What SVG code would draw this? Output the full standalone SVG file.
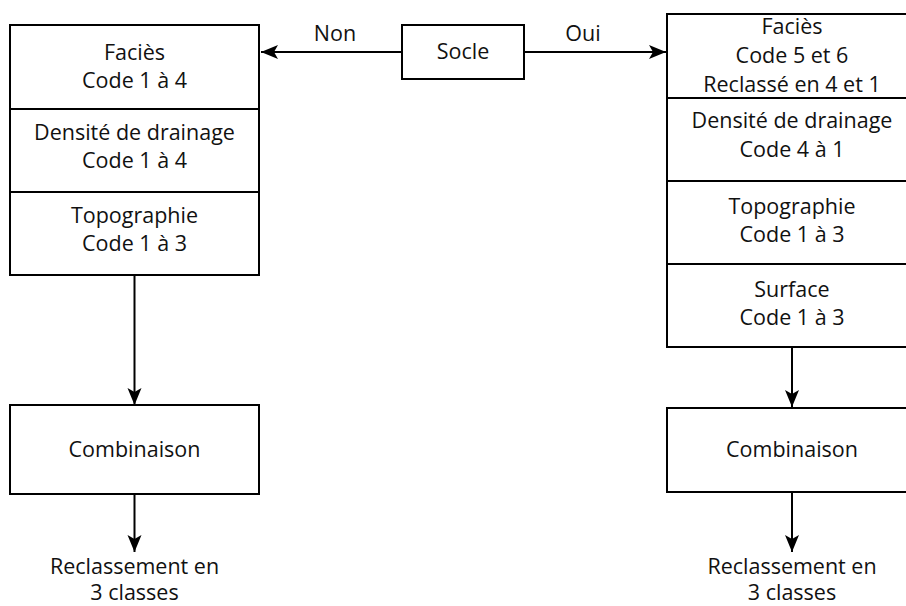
<svg xmlns="http://www.w3.org/2000/svg" width="906" height="606" viewBox="0 0 906 606">
<defs>
<marker id="ah" markerUnits="userSpaceOnUse" markerWidth="18" markerHeight="16" refX="17" refY="8" orient="auto">
<path d="M0,1 L17,8 L0,15 L4,8 Z" fill="#000"/>
</marker>
<style>
text{font-family:"Open Sans","Liberation Sans",sans-serif;font-size:21.5px;fill:#111;text-anchor:middle}
.box{fill:#fff;stroke:#000;stroke-width:2}
.div{stroke:#000;stroke-width:2}
.con{stroke:#000;stroke-width:2;fill:none;marker-end:url(#ah)}
</style>
</defs>
<rect width="906" height="606" fill="#fff"/>
<g id="connectors">
<line class="con" x1="402" y1="52" x2="261" y2="52"/>
<line class="con" x1="524" y1="52" x2="666" y2="52"/>
<line class="con" x1="134.5" y1="275" x2="134.5" y2="405"/>
<line class="con" x1="134.5" y1="494" x2="134.5" y2="552"/>
<line class="con" x1="792" y1="347" x2="792" y2="407"/>
<line class="con" x1="792" y1="492" x2="792" y2="552"/>
<text x="335" y="41">Non</text>
<text x="583" y="41">Oui</text>
</g>
<g id="socle">
<rect class="box" x="402" y="25" width="122" height="54"/>
<text x="463" y="59">Socle</text>
</g>
<g id="left-criteria">
<rect class="box" x="10" y="25" width="249" height="250"/>
<line class="div" x1="10" y1="109" x2="259" y2="109"/>
<line class="div" x1="10" y1="192" x2="259" y2="192"/>
<text x="134.5" y="60">Faciès</text>
<text x="134.5" y="88">Code 1 à 4</text>
<text x="134.5" y="140">Densité de drainage</text>
<text x="134.5" y="168">Code 1 à 4</text>
<text x="134.5" y="223">Topographie</text>
<text x="134.5" y="251">Code 1 à 3</text>
</g>
<g id="right-criteria">
<rect class="box" x="667" y="14" width="250" height="333"/>
<line class="div" x1="667" y1="98" x2="917" y2="98"/>
<line class="div" x1="667" y1="181" x2="917" y2="181"/>
<line class="div" x1="667" y1="264" x2="917" y2="264"/>
<text x="792" y="34">Faciès</text>
<text x="792" y="63">Code 5 et 6</text>
<text x="792" y="92">Reclassé en 4 et 1</text>
<text x="792" y="128">Densité de drainage</text>
<text x="792" y="157">Code 4 à 1</text>
<text x="792" y="214">Topographie</text>
<text x="792" y="242">Code 1 à 3</text>
<text x="792" y="297">Surface</text>
<text x="792" y="325">Code 1 à 3</text>
</g>
<g id="left-combinaison">
<rect class="box" x="10" y="405" width="249" height="89"/>
<text x="134.5" y="457">Combinaison</text>
</g>
<g id="right-combinaison">
<rect class="box" x="667" y="408" width="250" height="84"/>
<text x="792" y="457">Combinaison</text>
</g>
<g id="left-result">
<text x="134.5" y="574">Reclassement en</text>
<text x="134.5" y="600">3 classes</text>
</g>
<g id="right-result">
<text x="792" y="574">Reclassement en</text>
<text x="792" y="600">3 classes</text>
</g>
</svg>
